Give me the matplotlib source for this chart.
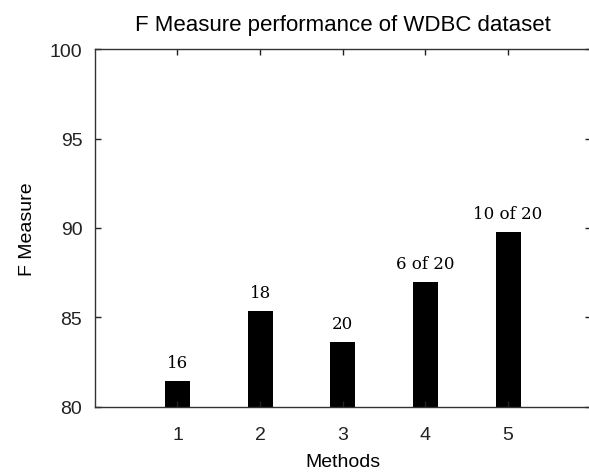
import matplotlib
matplotlib.use('Agg')
import matplotlib.pyplot as plt

# values
methods = [1, 2, 3, 4, 5]
f_measure = [81.45, 85.38, 83.65, 87.0, 89.8]
bar_labels = ['16', '18', '20', '6 of 20', '10 of 20']
yticks = [80, 85, 90, 95, 100]

plt.rcParams['font.family'] = ['Liberation Sans', 'DejaVu Sans']

fig = plt.figure(figsize=(5.89, 4.77), dpi=100)
ax = fig.add_axes([0.161, 0.145, 0.842, 0.75])

ax.bar(methods, f_measure, width=0.3, bottom=0, color='black')
ax.set_xlim(0, 6)
ax.set_ylim(80, 100)
ax.set_xticks(methods)
ax.set_yticks(yticks)
ax.tick_params(direction='in', length=4, width=1, top=True, right=True,
               labelsize=14, colors='#222222')
ax.tick_params(axis='x', pad=14)
ax.tick_params(axis='y', pad=9)

for sp in ax.spines.values():
    sp.set_color('#333333')
    sp.set_linewidth(1)

for x, y, lab in zip(methods, f_measure, bar_labels):
    ax.annotate(lab, (x, y), xytext=(0, 7), textcoords='offset points',
                ha='center', va='bottom', fontsize=12,
                family=['DejaVu Serif'])

ax.set_title('F Measure performance of WDBC dataset', fontsize=16, pad=14)
ax.set_xlabel('Methods', fontsize=14, labelpad=7)
ax.set_ylabel('F Measure', fontsize=14, labelpad=10)

fig.savefig('out.png', dpi=100)
